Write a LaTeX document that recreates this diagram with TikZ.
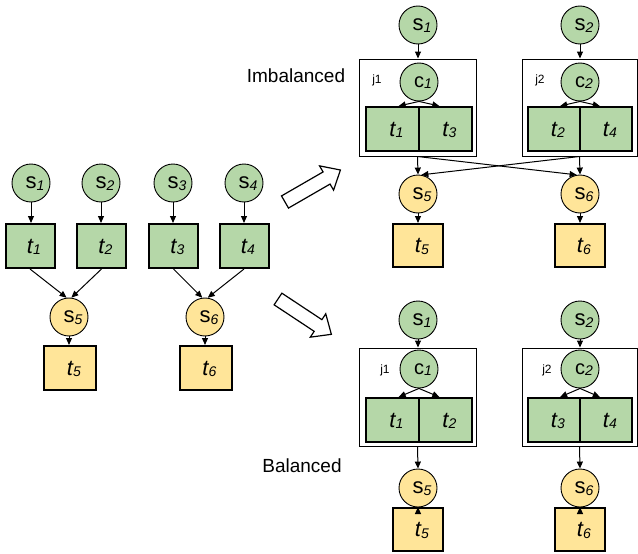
\documentclass[tikz,border=0pt]{standalone}
\usepackage{fontspec}
\setmainfont{Liberation Sans}
\usetikzlibrary{arrows.meta,calc}
\definecolor{gfill}{HTML}{B5D7A8}
\definecolor{yfill}{HTML}{FFE599}
\newcommand{\subl}[1]{\rlap{\smash{\raisebox{-1.5pt}{\fontsize{14}{14}\selectfont\itshape #1}}}}
\begin{document}
\begin{tikzpicture}[x=1pt,y=-1pt,
  circ/.style={circle,draw,line width=0.9pt,minimum size=38pt,inner sep=0pt,font=\fontsize{22}{22}\selectfont},
  gs/.style={circ,fill=gfill},
  ys/.style={circ,fill=yfill},
  cc/.style={circ,fill=gfill,font=\fontsize{20}{20}\selectfont},
  tb/.style={draw,line width=2pt,inner sep=0pt,minimum width=49pt,minimum height=44pt,font=\fontsize{22}{22}\selectfont\itshape},
  gt/.style={tb,fill=gfill},
  yt/.style={tb,fill=yfill},
  jbox/.style={draw,line width=1pt,inner sep=0pt,fill=white,minimum height=97pt},
  jlab/.style={font=\fontsize{12}{12}\selectfont,inner sep=0pt},
  captext/.style={font=\fontsize{19}{19}\selectfont,inner sep=0pt},
  arr/.style={-{Triangle[length=7pt,width=6pt]},line width=1pt},
  hollow/.style={draw,line width=1.2pt,fill=white,line join=miter},
]
\useasboundingbox (0,0) rectangle (638,554);

% ---------- left ----------
\node[gs] (ls1) at (31,183) {s\subl{1}};
\node[gs] (ls2) at (101,183) {s\subl{2}};
\node[gs] (ls3) at (173,183) {s\subl{3}};
\node[gs] (ls4) at (244,183) {s\subl{4}};
\node[gt] (lt1) at (30,246) {t\subl{1}};
\node[gt] (lt2) at (101.5,246) {t\subl{2}};
\node[gt] (lt3) at (173.5,246) {t\subl{3}};
\node[gt] (lt4) at (244,246) {t\subl{4}};
\node[ys] (ls5) at (69,317) {s\subl{5}};
\node[ys] (ls6) at (205,317) {s\subl{6}};
\node[yt,minimum width=52pt] (lt5) at (70,368) {t\subl{5}};
\node[yt,minimum width=52pt] (lt6) at (205.5,368) {t\subl{6}};

\foreach \i in {1,2,3,4}{\draw[arr] (ls\i.south) -- (ls\i.south |- lt\i.north);}
\draw[arr] (lt1.south) -- (ls5.97);
\draw[arr] (lt2.south) -- (ls5.83);
\draw[arr] (lt3.south) -- (ls6.98);
\draw[arr] (lt4.south) -- (ls6.82);
\draw[arr] (ls5.south) -- (ls5.south |- lt5.north);
\draw[arr] (ls6.south) -- (ls6.south |- lt6.north);

% ---------- hollow arrows ----------
\begin{scope}[shift={(285,202)},rotate=30]
  \path[hollow] (0,-7) -- (48,-7) -- (48,-14) -- (64,0) -- (48,14) -- (48,7) -- (0,7) -- cycle;
\end{scope}
\begin{scope}[shift={(278,299)},rotate=-33.5]
  \path[hollow] (0,-7) -- (48,-7) -- (48,-14) -- (64,0) -- (48,14) -- (48,7) -- (0,7) -- cycle;
\end{scope}

% ---------- imbalanced ----------
\node[captext] (imb) at (296,76) {Imbalanced};
\node[gs] (a1) at (418,25) {s\subl{1}};
\node[gs] (a2) at (580,25) {s\subl{2}};
\node[jbox,minimum width=117pt] (aj1) at (417.5,107.5) {};
\node[jbox,minimum width=115pt] (aj2) at (579.5,107.5) {};
\node[jlab] (aj1l) at (377,80) {j1};
\node[jlab] (aj2l) at (540,80) {j2};
\node[cc] (ac1) at (419,82) {c\subl{1}};
\node[cc] (ac2) at (580,82) {c\subl{2}};
\node[gt,minimum width=53pt] (a11) at (392.5,129) {t\subl{1}};
\node[gt,minimum width=53pt] (a13) at (445.5,129) {t\subl{3}};
\node[gt,minimum width=52pt] (a22) at (554,129) {t\subl{2}};
\node[gt,minimum width=52pt] (a24) at (606,129) {t\subl{4}};
\node[ys] (a5) at (418,194) {s\subl{5}};
\node[ys] (a6) at (580,194) {s\subl{6}};
\node[yt,minimum width=50pt,minimum height=43pt] (at5) at (418,245.5) {t\subl{5}};
\node[yt,minimum width=50pt,minimum height=43pt] (at6) at (580,245.5) {t\subl{6}};

\draw[arr] (a1.south) -- (a1.south |- aj1.north);
\draw[arr] (a2.south) -- (a2.south |- aj2.north);
\draw[arr] (ac1.south) -- (a11.75);
\draw[arr] (ac1.south) -- (a13.105);
\draw[arr] (ac2.south) -- (a22.75);
\draw[arr] (ac2.south) -- (a24.105);
\draw[arr] (aj1.south) -- (a5.north);
\draw[arr] (aj2.south) -- (a6.north);
\draw[arr] (aj1.south) -- (a6.100);
\draw[arr] (aj2.south) -- (a5.80);
\draw[arr] (a5.south) -- (at5.north);
\draw[arr] (a6.south) -- (at6.north);

% ---------- balanced ----------
\node[captext] (bal) at (302,466) {Balanced};
\node[gs] (b1) at (418,320) {s\subl{1}};
\node[gs] (b2) at (580,320) {s\subl{2}};
\node[jbox,minimum width=117pt,minimum height=98pt] (bj1) at (417.5,397) {};
\node[jbox,minimum width=115pt,minimum height=98pt] (bj2) at (579.5,397) {};
\node[jlab] (bj1l) at (385,370) {j1};
\node[jlab] (bj2l) at (547,370) {j2};
\node[cc] (bc1) at (419,369) {c\subl{1}};
\node[cc] (bc2) at (580,369) {c\subl{2}};
\node[gt,minimum width=53pt] (b11) at (392.5,420) {t\subl{1}};
\node[gt,minimum width=53pt] (b12) at (445.5,420) {t\subl{2}};
\node[gt,minimum width=52pt] (b23) at (554,420) {t\subl{3}};
\node[gt,minimum width=52pt] (b24) at (606,420) {t\subl{4}};
\node[ys] (b5) at (418,488) {s\subl{5}};
\node[ys] (b6) at (580,488) {s\subl{6}};
\node[yt,minimum width=50pt,minimum height=43pt] (bt5) at (418,529.5) {t\subl{5}};
\node[yt,minimum width=50pt,minimum height=43pt] (bt6) at (580,529.5) {t\subl{6}};

\draw[arr] (b1.south) -- (b1.south |- bj1.north);
\draw[arr] (b2.south) -- (b2.south |- bj2.north);
\draw[arr] (bc1.south) -- (b11.75);
\draw[arr] (bc1.south) -- (b12.105);
\draw[arr] (bc2.south) -- (b23.75);
\draw[arr] (bc2.south) -- (b24.105);
\draw[arr] (bj1.south) -- (b5.north);
\draw[arr] (bj2.south) -- (b6.north);
\draw[arr] (b5.south) -- (bt5.north);
\draw[arr] (b6.south) -- (bt6.north);
\end{tikzpicture}
\end{document}
